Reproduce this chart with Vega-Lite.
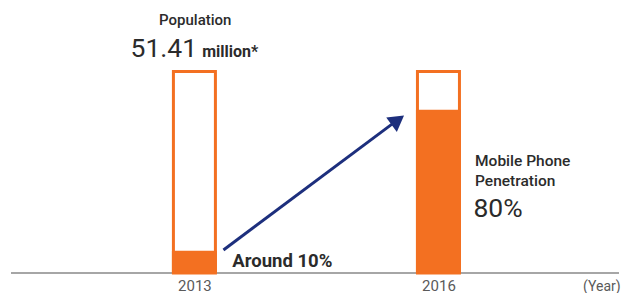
{
  "$schema": "https://vega.github.io/schema/vega-lite/v6.json",
  "width": 624,
  "height": 273,
  "autosize": "none",
  "padding": {"left": 0, "top": 0, "right": 0, "bottom": 20},
  "background": "white",
  "config": {"view": {"stroke": null}, "font": "Roboto"},
  "datasets": {
    "bars": [
      {"year": 2013, "pct": 11, "total": 100},
      {"year": 2016, "pct": 81, "total": 100}
    ],
    "arrow": [
      {"x": 2013.357, "y": 11.4, "x2": 2015.462, "y2": 74.9}
    ],
    "head": [
      {"x": 2015.50, "y": 75.9}
    ],
    "base": [
      {"x": 2010.745, "x2": 2018.2195, "y": 0}
    ],
    "pop": [
      {"x": 2013.01, "y": 123.1, "text": "Population"}
    ],
    "big": [
      {"x": 2012.215, "y": 107.2, "text": "51.41"},
      {"x": 2016.43, "y": 27.9, "text": "80%"}
    ],
    "million": [
      {"x": 2013.095, "y": 107.2, "text": "million*"}
    ],
    "around": [
      {"x": 2013.466, "y": 2.8, "text": "Around 10%"}
    ],
    "mp": [
      {"x": 2016.45, "y": 53.1, "text": "Mobile Phone"},
      {"x": 2016.45, "y": 43.2, "text": "Penetration"}
    ],
    "unit": [
      {"x": 2018.24, "y": -8.9, "text": "(Year)"}
    ]
  },
  "layer": [
    {
      "data": {"name": "base"},
      "mark": {"type": "rule", "color": "#888888", "strokeWidth": 1.5},
      "encoding": {
        "x": {"field": "x", "type": "quantitative", "scale": {"domain": [2010.6715, 2018.2195], "nice": false, "zero": false},
          "axis": {"values": [2013, 2016], "format": "d", "title": null, "domain": false, "ticks": false, "grid": false,
            "labelFont": "Roboto", "labelFontSize": 15, "labelColor": "#5a5a5a", "labelPadding": 5}},
        "x2": {"field": "x2"},
        "y": {"field": "y", "type": "quantitative", "scale": {"domain": [0, 135.5], "nice": false, "zero": false}, "axis": null}
      }
    },
    {
      "data": {"name": "bars"},
      "mark": {"type": "bar", "width": 42, "fill": "white", "stroke": "#f37021", "strokeWidth": 3},
      "encoding": {
        "x": {"field": "year", "type": "quantitative"},
        "y": {"field": "total", "type": "quantitative"}
      }
    },
    {
      "data": {"name": "bars"},
      "mark": {"type": "bar", "width": 45, "fill": "#f37021"},
      "encoding": {
        "x": {"field": "year", "type": "quantitative"},
        "y": {"field": "pct", "type": "quantitative"}
      }
    },
    {
      "data": {"name": "arrow"},
      "mark": {"type": "rule", "color": "#1d2f7d", "strokeWidth": 3},
      "encoding": {
        "x": {"field": "x", "type": "quantitative"},
        "y": {"field": "y", "type": "quantitative"},
        "x2": {"field": "x2"},
        "y2": {"field": "y2"}
      }
    },
    {
      "data": {"name": "head"},
      "mark": {"type": "point", "shape": "triangle-up", "filled": true, "color": "#1d2f7d", "opacity": 1, "size": 320, "angle": 53.6},
      "encoding": {
        "x": {"field": "x", "type": "quantitative"},
        "y": {"field": "y", "type": "quantitative"}
      }
    },
    {
      "data": {"name": "pop"},
      "mark": {"type": "text", "align": "center", "baseline": "alphabetic", "color": "#2b2b2b", "fontSize": 15, "fontWeight": 500},
      "encoding": {
        "x": {"field": "x", "type": "quantitative"},
        "y": {"field": "y", "type": "quantitative"},
        "text": {"field": "text"}
      }
    },
    {
      "data": {"name": "big"},
      "mark": {"type": "text", "align": "left", "baseline": "alphabetic", "color": "#2b2b2b", "fontSize": 26.5, "fontWeight": "normal"},
      "encoding": {
        "x": {"field": "x", "type": "quantitative"},
        "y": {"field": "y", "type": "quantitative"},
        "text": {"field": "text"}
      }
    },
    {
      "data": {"name": "million"},
      "mark": {"type": "text", "align": "left", "baseline": "alphabetic", "color": "#2b2b2b", "fontSize": 16, "fontWeight": "bold"},
      "encoding": {
        "x": {"field": "x", "type": "quantitative"},
        "y": {"field": "y", "type": "quantitative"},
        "text": {"field": "text"}
      }
    },
    {
      "data": {"name": "around"},
      "mark": {"type": "text", "align": "left", "baseline": "alphabetic", "color": "#2b2b2b", "fontSize": 18.5, "fontWeight": "bold"},
      "encoding": {
        "x": {"field": "x", "type": "quantitative"},
        "y": {"field": "y", "type": "quantitative"},
        "text": {"field": "text"}
      }
    },
    {
      "data": {"name": "mp"},
      "mark": {"type": "text", "align": "left", "baseline": "alphabetic", "color": "#2b2b2b", "fontSize": 15.5, "fontWeight": 500},
      "encoding": {
        "x": {"field": "x", "type": "quantitative"},
        "y": {"field": "y", "type": "quantitative"},
        "text": {"field": "text"}
      }
    },
    {
      "data": {"name": "unit"},
      "mark": {"type": "text", "align": "right", "baseline": "alphabetic", "color": "#5a5a5a", "fontSize": 14},
      "encoding": {
        "x": {"field": "x", "type": "quantitative"},
        "y": {"field": "y", "type": "quantitative"},
        "text": {"field": "text"}
      }
    }
  ]
}
